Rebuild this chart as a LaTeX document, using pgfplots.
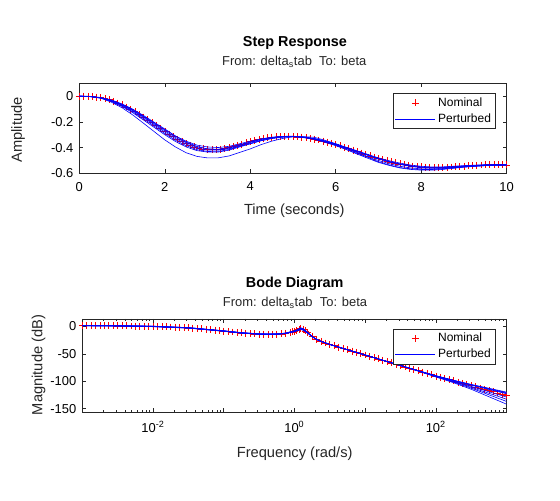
\documentclass[border=0pt]{standalone}
\usepackage{fontspec}
\setmainfont{Liberation Sans}
\usepackage{pgfplots}
\usepackage{pgfplotstable}
\pgfplotsset{compat=1.18}
\definecolor{axgray}{gray}{0.15}

\pgfplotstableread{
t y
0.0 0.000
0.1 0.000
0.2 -0.001
0.3 -0.003
0.4 -0.007
0.5 -0.012
0.6 -0.019
0.7 -0.028
0.8 -0.040
0.9 -0.053
1.0 -0.068
1.1 -0.084
1.2 -0.102
1.3 -0.121
1.4 -0.141
1.5 -0.162
1.6 -0.184
1.7 -0.206
1.8 -0.229
1.9 -0.251
2.0 -0.273
2.1 -0.294
2.2 -0.315
2.3 -0.334
2.4 -0.352
2.5 -0.368
2.6 -0.382
2.7 -0.394
2.8 -0.403
2.9 -0.410
3.0 -0.414
3.1 -0.416
3.2 -0.415
3.3 -0.412
3.4 -0.407
3.5 -0.400
3.6 -0.392
3.7 -0.383
3.8 -0.373
3.9 -0.363
4.0 -0.354
4.1 -0.345
4.2 -0.337
4.3 -0.330
4.4 -0.324
4.5 -0.319
4.6 -0.316
4.7 -0.314
4.8 -0.313
4.9 -0.313
5.0 -0.314
5.1 -0.316
5.2 -0.319
5.3 -0.323
5.4 -0.328
5.5 -0.334
5.6 -0.341
5.7 -0.349
5.8 -0.358
5.9 -0.367
6.0 -0.377
6.1 -0.387
6.2 -0.398
6.3 -0.409
6.4 -0.420
6.5 -0.431
6.6 -0.442
6.7 -0.453
6.8 -0.464
6.9 -0.474
7.0 -0.484
7.1 -0.494
7.2 -0.503
7.3 -0.511
7.4 -0.519
7.5 -0.526
7.6 -0.532
7.7 -0.538
7.8 -0.543
7.9 -0.547
8.0 -0.550
8.1 -0.552
8.2 -0.554
8.3 -0.555
8.4 -0.555
8.5 -0.554
8.6 -0.553
8.7 -0.551
8.8 -0.549
8.9 -0.546
9.0 -0.544
9.1 -0.541
9.2 -0.539
9.3 -0.537
9.4 -0.535
9.5 -0.534
9.6 -0.533
9.7 -0.533
9.8 -0.533
9.9 -0.534
10.0 -0.534
}\stepnom

\pgfplotstableread{
t p1 p2 p3 p4 p5 p6 p7
0.0 0 0 0 0 0 0 0
0.25 -0.0035 -0.002 -0.003 -0.0025 -0.001 -0.0035 -0.002
0.5 -0.015 -0.012 -0.014 -0.013 -0.010 -0.015 -0.012
0.75 -0.0465 -0.0325 -0.0385 -0.0355 -0.029 -0.0415 -0.034
1.0 -0.090 -0.065 -0.075 -0.070 -0.060 -0.080 -0.068
1.25 -0.146 -0.106 -0.121 -0.1135 -0.101 -0.1285 -0.110
1.5 -0.210 -0.155 -0.175 -0.165 -0.150 -0.185 -0.160
1.75 -0.275 -0.2075 -0.2325 -0.2215 -0.2025 -0.2425 -0.214
2.0 -0.340 -0.260 -0.290 -0.278 -0.255 -0.300 -0.268
2.25 -0.395 -0.310 -0.3425 -0.330 -0.310 -0.3525 -0.320
2.5 -0.440 -0.350 -0.385 -0.372 -0.355 -0.395 -0.362
2.75 -0.468 -0.3805 -0.4155 -0.404 -0.3905 -0.423 -0.394
3.0 -0.480 -0.395 -0.430 -0.420 -0.410 -0.435 -0.410
3.25 -0.4795 -0.3995 -0.4295 -0.4195 -0.417 -0.4345 -0.412
3.5 -0.465 -0.390 -0.415 -0.405 -0.410 -0.420 -0.400
3.75 -0.4375 -0.370 -0.390 -0.3815 -0.390 -0.395 -0.378
4.0 -0.410 -0.350 -0.365 -0.358 -0.370 -0.370 -0.356
4.25 -0.377 -0.332 -0.342 -0.337 -0.347 -0.346 -0.335
4.5 -0.350 -0.320 -0.325 -0.322 -0.330 -0.328 -0.320
4.75 -0.3295 -0.313 -0.317 -0.3145 -0.3195 -0.3175 -0.3125
5.0 -0.315 -0.312 -0.315 -0.313 -0.315 -0.313 -0.311
5.25 -0.3145 -0.318 -0.323 -0.320 -0.3195 -0.3185 -0.3185
5.5 -0.320 -0.330 -0.337 -0.333 -0.330 -0.330 -0.332
5.75 -0.343 -0.348 -0.359 -0.3535 -0.349 -0.353 -0.352
6.0 -0.370 -0.370 -0.385 -0.378 -0.372 -0.380 -0.376
6.25 -0.405 -0.3975 -0.415 -0.4055 -0.400 -0.415 -0.403
6.5 -0.440 -0.425 -0.445 -0.433 -0.428 -0.450 -0.430
6.75 -0.475 -0.4525 -0.4725 -0.4605 -0.4565 -0.4825 -0.4575
7.0 -0.510 -0.480 -0.500 -0.488 -0.485 -0.515 -0.485
7.25 -0.5345 -0.502 -0.5245 -0.511 -0.5095 -0.5385 -0.5075
7.5 -0.555 -0.520 -0.545 -0.530 -0.530 -0.558 -0.526
7.75 -0.5655 -0.5355 -0.558 -0.5445 -0.546 -0.5695 -0.5405
8.0 -0.570 -0.545 -0.565 -0.553 -0.556 -0.575 -0.549
8.25 -0.5705 -0.5505 -0.568 -0.5575 -0.561 -0.5755 -0.554
8.5 -0.565 -0.550 -0.565 -0.556 -0.560 -0.570 -0.553
8.75 -0.5575 -0.545 -0.5575 -0.5505 -0.554 -0.561 -0.548
9.0 -0.550 -0.540 -0.550 -0.545 -0.548 -0.552 -0.543
9.25 -0.545 -0.5365 -0.544 -0.540 -0.542 -0.546 -0.5385
9.5 -0.540 -0.533 -0.538 -0.535 -0.536 -0.540 -0.534
9.75 -0.5375 -0.533 -0.5365 -0.5345 -0.535 -0.538 -0.5335
10.0 -0.535 -0.533 -0.535 -0.534 -0.534 -0.536 -0.533
}\steppert

\pgfplotstableread{
lw db
-3.0 1.5
-2.9375 1.5
-2.875 1.5
-2.8125 1.4
-2.75 1.4
-2.6875 1.3
-2.625 1.3
-2.5625 1.2
-2.5 1.1
-2.4375 1.0
-2.375 0.9
-2.3125 0.8
-2.25 0.7
-2.1875 0.5
-2.125 0.4
-2.0625 0.2
-2.0 0.0
-1.9375 -0.2
-1.875 -0.4
-1.8125 -0.7
-1.75 -1.0
-1.6875 -1.3
-1.625 -1.7
-1.5625 -2.1
-1.5 -2.6
-1.4375 -3.1
-1.375 -3.7
-1.3125 -4.4
-1.25 -5.2
-1.1875 -6.0
-1.125 -6.8
-1.0625 -7.6
-1.0 -8.4
-0.9375 -9.3
-0.875 -10.2
-0.8125 -11.0
-0.75 -11.8
-0.6875 -12.5
-0.625 -13.1
-0.5625 -13.6
-0.5 -13.9
-0.4375 -14.1
-0.375 -14.2
-0.3125 -14.2
-0.25 -14.0
-0.1875 -13.5
-0.125 -12.6
-0.0625 -11.0
-0.03 -9.9
0.0 -8.8
0.03 -7.5
0.0625 -5.8
0.09 -4.0
0.125 -5.5
0.155 -8.0
0.1875 -11.5
0.25 -18.5
0.3125 -23.5
0.375 -27.2
0.4375 -30.2
0.5 -32.8
0.5625 -35.3
0.625 -37.7
0.6875 -40.1
0.75 -42.5
0.8125 -44.9
0.875 -47.3
0.9375 -49.7
1.0 -52.1
1.0625 -54.5
1.125 -56.9
1.1875 -59.3
1.25 -61.7
1.3125 -64.1
1.375 -66.5
1.4375 -68.9
1.5 -71.3
1.5625 -73.7
1.625 -76.1
1.6875 -78.5
1.75 -80.9
1.8125 -83.3
1.875 -85.7
1.9375 -88.1
2.0 -90.5
2.0625 -92.8
2.125 -95.0
2.1875 -97.2
2.25 -99.4
2.3125 -101.6
2.375 -103.8
2.4375 -106.0
2.5 -108.2
2.5625 -110.4
2.625 -112.6
2.6875 -114.8
2.75 -117.0
2.8125 -119.2
2.875 -121.4
2.9375 -123.6
3.0 -125.8
}\bodenom

\pgfplotstableread{
lw c1 c2 c3 c4 c5 c6 c7 c8
-3.0 2.0 1.2 1.7 1.0 1.5 1.8 1.3 1.9
-2.5 1.6 0.8 1.3 0.6 1.1 1.4 0.9 1.5
-2.0 0.5 -0.3 0.2 -0.5 0.0 0.3 -0.2 0.4
-1.5 -2.1 -2.9 -2.4 -3.1 -2.6 -2.3 -2.8 -2.2
-1.0 -7.9 -8.7 -8.2 -8.9 -8.4 -8.1 -8.6 -8.0
-0.75 -11.3 -12.1 -11.6 -12.3 -11.8 -11.5 -12.0 -11.4
-0.5 -13.4 -14.2 -13.7 -14.4 -13.9 -13.6 -14.1 -13.5
-0.375 -13.7 -14.5 -14.0 -14.7 -14.2 -13.9 -14.4 -13.8
-0.25 -13.5 -14.3 -13.8 -14.5 -14.0 -13.7 -14.2 -13.6
-0.125 -12.1 -12.9 -12.4 -13.1 -12.6 -12.3 -12.8 -12.2
0.0 -8.05 -9.45 -8.45 -9.8 -8.8 -7.9 -9.15 -8.35
0.03 -7.0 -8.0 -7.25 -8.25 -7.5 -6.75 -7.75 -7.25
0.0625 -4.8 -6.8 -5.3 -7.3 -5.8 -4.3 -6.3 -5.3
0.09 -3.0 -5.0 -3.5 -5.5 -4.0 -2.5 -4.5 -3.5
0.125 -4.5 -6.5 -5.0 -7.0 -5.5 -4.0 -6.0 -5.0
0.1875 -11.0 -12.0 -11.25 -12.25 -11.5 -10.75 -11.75 -11.25
0.25 -18.3 -18.7 -18.4 -18.8 -18.5 -18.2 -18.6 -18.4
0.3125 -23.4 -23.6 -23.4 -23.7 -23.5 -23.3 -23.6 -23.4
0.375 -27.2 -27.2 -27.2 -27.2 -27.2 -27.2 -27.2 -27.2
0.5 -32.8 -32.8 -32.8 -32.8 -32.8 -32.8 -32.8 -32.8
0.625 -37.7 -37.7 -37.7 -37.7 -37.7 -37.7 -37.7 -37.7
0.75 -42.5 -42.5 -42.5 -42.5 -42.5 -42.5 -42.5 -42.5
0.875 -47.3 -47.3 -47.3 -47.3 -47.3 -47.3 -47.3 -47.3
1.0 -52.1 -52.1 -52.1 -52.1 -52.1 -52.1 -52.1 -52.1
1.25 -61.7 -61.7 -61.7 -61.7 -61.7 -61.7 -61.7 -61.7
1.5 -71.3 -71.3 -71.3 -71.3 -71.3 -71.3 -71.3 -71.3
1.75 -80.7 -80.75 -80.8 -80.8 -81.0 -81.1 -81.2 -81.4
2.0 -89.9 -90.0 -90.1 -90.2 -90.8 -91.2 -91.6 -92.1
2.25 -98.2 -98.4 -98.6 -98.8 -100.0 -100.8 -101.6 -102.6
2.5 -105.8 -106.2 -106.6 -107.0 -109.4 -111.0 -112.6 -114.6
2.75 -112.8 -113.5 -114.2 -114.9 -119.1 -121.9 -124.7 -128.2
3.0 -119.8 -120.8 -121.8 -122.8 -128.8 -132.8 -136.8 -141.8
}\bodepert

\pgfplotsset{
  matlabax/.style={
    scale only axis,
    tick align=inside,
    major tick length=3pt,
    minor tick length=1.7pt,
    axis line style={axgray, line width=0.4pt},
    every tick/.style={axgray, line width=0.4pt},
    ticklabel style={font=\fontsize{9.7}{11}\selectfont},
    xticklabel style={yshift=-3pt},
    yticklabel style={xshift=-1pt},
    clip mode=individual,
  },
  legax/.style={
    scale only axis, hide axis, xmin=0, xmax=1, ymin=0, ymax=1,
    legend cell align=left,
    legend style={at={(rel axis cs:1,1)}, anchor=north east,
      xshift=-8.6pt, yshift=-7.5pt, draw=axgray, line width=0.4pt,
      fill=white, font=\fontsize{9}{10.5}\selectfont,
      inner xsep=1pt, inner ysep=1pt},
  },
  nomstyle/.style={only marks, mark=+, mark size=2.6pt, color=red, draw=red,
    mark options={draw=red, line width=0.45pt}},
  pertstyle/.style={color=blue, draw=blue, line width=0.45pt},
  nomleg/.style={red, mark=+, mark size=2.6pt, mark options={draw=red, line width=0.45pt},
    legend image code/.code={\draw[mark repeat=2, mark phase=2, only marks, red, mark=+, mark size=2.6pt, mark options={draw=red, line width=0.45pt}] plot coordinates {(0pt,0pt) (15pt,0pt) (30pt,0pt)};}},
  pertleg/.style={blue, line width=0.45pt,
    legend image code/.code={\draw[blue, line width=0.45pt] (0pt,0pt) -- (30pt,0pt);}},
}

\begin{document}
\begin{tikzpicture}
\path[use as bounding box, fill=white] (0,0) rectangle (420pt,375pt);

\begin{axis}[matlabax,
  at={(59.5pt,245pt)}, anchor=south west,
  width=320.5pt, height=67.5pt,
  xmin=0, xmax=10, ymin=-0.6, ymax=0.1,
  xtick={0,2,4,6,8,10}, xticklabels={0,2,4,6,8,10},
  ytick={-0.6,-0.4,-0.2,0}, yticklabels={-0.6,-0.4,-0.2,0},
]
\addplot[nomstyle, forget plot] table[x=t, y=y] {\stepnom};
\addplot[pertstyle, forget plot] table[x=t, y=p1] {\steppert};
\addplot[pertstyle, forget plot] table[x=t, y=p2] {\steppert};
\addplot[pertstyle, forget plot] table[x=t, y=p3] {\steppert};
\addplot[pertstyle, forget plot] table[x=t, y=p4] {\steppert};
\addplot[pertstyle, forget plot] table[x=t, y=p5] {\steppert};
\addplot[pertstyle, forget plot] table[x=t, y=p6] {\steppert};
\addplot[pertstyle, forget plot] table[x=t, y=p7] {\steppert};
\end{axis}

\begin{axis}[matlabax,
  at={(61.7pt,65.8pt)}, anchor=south west,
  width=318.2pt, height=70pt,
  xmin=-3, xmax=3, ymin=-156.6, ymax=13.7,
  xtick={-3,-2,-1,0,1,2,3},
  xticklabels={{},{10\textsuperscript{-2}},{},{10\textsuperscript{0}},{},{10\textsuperscript{2}},{}},
  minor xtick={-2.699,-2.523,-2.398,-2.301,-2.222,-2.155,-2.097,-2.046,
    -1.699,-1.523,-1.398,-1.301,-1.222,-1.155,-1.097,-1.046,
    -0.699,-0.523,-0.398,-0.301,-0.222,-0.155,-0.097,-0.046,
    0.301,0.477,0.602,0.699,0.778,0.845,0.903,0.954,
    1.301,1.477,1.602,1.699,1.778,1.845,1.903,1.954,
    2.301,2.477,2.602,2.699,2.778,2.845,2.903,2.954},
  ytick={-150,-100,-50,0}, yticklabels={-150,-100,-50,0},
]
\addplot[nomstyle, forget plot] table[x=lw, y=db] {\bodenom};
\addplot[pertstyle, forget plot] table[x=lw, y=c1] {\bodepert};
\addplot[pertstyle, forget plot] table[x=lw, y=c2] {\bodepert};
\addplot[pertstyle, forget plot] table[x=lw, y=c3] {\bodepert};
\addplot[pertstyle, forget plot] table[x=lw, y=c4] {\bodepert};
\addplot[pertstyle, forget plot] table[x=lw, y=c5] {\bodepert};
\addplot[pertstyle, forget plot] table[x=lw, y=c6] {\bodepert};
\addplot[pertstyle, forget plot] table[x=lw, y=c7] {\bodepert};
\addplot[pertstyle, forget plot] table[x=lw, y=c8] {\bodepert};
\end{axis}

\begin{axis}[legax,
  at={(61.7pt,65.8pt)}, anchor=south west,
  width=318.2pt, height=70pt,
]
\addlegendimage{nomleg}
\addlegendentry{Nominal}
\addlegendimage{pertleg}
\addlegendentry{Perturbed}
\end{axis}

\node[font=\bfseries\fontsize{10.8}{13}\selectfont, text=black] at (221.25pt,343pt) {Step Response};
\node[font=\fontsize{9.7}{11}\selectfont, text=axgray] at (220.7pt,328.5pt) {From: delta\textsubscript{s}tab\ \ To: beta};
\node[font=\fontsize{11}{13}\selectfont, text=axgray] at (220.7pt,217pt) {Time (seconds)};
\node[rotate=90, font=\fontsize{11}{13}\selectfont, text=axgray] at (13.5pt,277.5pt) {Amplitude};

\node[font=\bfseries\fontsize{10.8}{13}\selectfont, text=black] at (221pt,162pt) {Bode Diagram};
\node[font=\fontsize{9.7}{11}\selectfont, text=axgray] at (221.25pt,147.5pt) {From: delta\textsubscript{s}tab\ \ To: beta};
\node[font=\fontsize{11}{13}\selectfont, text=axgray] at (221pt,35pt) {Frequency (rad/s)};
\node[rotate=90, font=\fontsize{11}{13}\selectfont, text=axgray] at (29pt,101.25pt) {Magnitude (dB)};

\begin{axis}[legax,
  at={(59.5pt,245pt)}, anchor=south west,
  width=320.5pt, height=67.5pt,
]
\addlegendimage{nomleg}
\addlegendentry{Nominal}
\addlegendimage{pertleg}
\addlegendentry{Perturbed}
\end{axis}
\end{tikzpicture}
\end{document}
